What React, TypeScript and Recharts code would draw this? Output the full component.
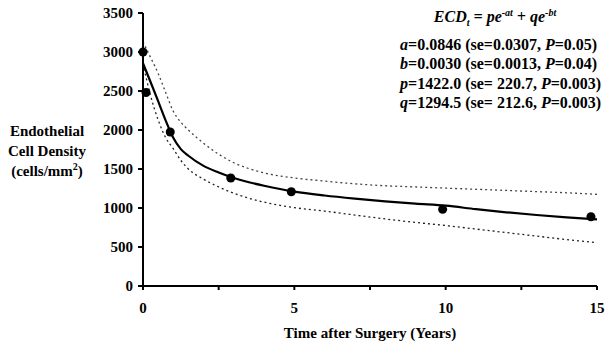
import { ComposedChart, Line, Scatter, XAxis, YAxis } from 'recharts'

// fitted curve and its dotted bands, sampled off the figure (years after surgery)
const years = [0, 0.25, 0.5, 0.75, 1, 1.25, 1.5, 2, 2.5, 3, 3.5, 4, 5, 6, 7, 8, 9, 10, 11, 12, 13, 14, 15]
const fitted = [2855, 2615, 2370, 2120, 1900, 1755, 1670, 1540, 1455, 1385, 1330, 1285, 1210, 1160, 1120, 1085, 1055, 1030, 985, 945, 910, 880, 855]
const upper = [3130, 2930, 2727, 2480, 2240, 2100, 2000, 1830, 1690, 1580, 1505, 1450, 1385, 1345, 1310, 1285, 1270, 1255, 1240, 1225, 1210, 1195, 1175]
const lower = [2850, 2440, 2130, 1900, 1760, 1610, 1500, 1370, 1270, 1190, 1125, 1075, 1005, 960, 910, 860, 815, 775, 730, 685, 640, 595, 555]

// observed means
const obsYears = [0, 0.1, 0.9, 2.9, 4.9, 9.9, 14.8]
const obsEcd = [3000, 2480, 1975, 1385, 1209, 983, 888]

const xTicks = [0, 2.5, 5, 7.5, 10, 12.5, 15]
const yTicks = [0, 500, 1000, 1500, 2000, 2500, 3000, 3500]

const serif = '"Liberation Serif"'

const series = (vals: number[]) => years.map((t, i) => ({ t, v: vals[i] }))
const obs = obsYears.map((t, i) => ({ t, v: obsEcd[i] }))

const tickStyle = { fontFamily: serif, fontWeight: 700, fontSize: 15, fill: '#000' }

const params = [
  ['a', '0.0846', '0.0307', '0.05'],
  ['b', '0.0030', '0.0013', '0.04'],
  ['p', '1422.0', ' 220.7', '0.003'],
  ['q', '1294.5', ' 212.6', '0.003'],
]

export default function App() {
  return (
    <div style={{ position: 'absolute', left: 0, top: 0, width: 607, height: 347, background: '#fff', fontFamily: serif, color: '#000' }}>
      <ComposedChart width={607} height={347} margin={{ top: 13, right: 10, bottom: 31, left: 0 }}>
        <XAxis type="number" dataKey="t" domain={[0, 15]} ticks={xTicks} interval={0} height={30}
          tickFormatter={v => (v % 5 === 0 ? String(v) : '')}
          axisLine={{ stroke: '#000', strokeWidth: 2 }} tickLine={{ stroke: '#000', strokeWidth: 2 }}
          tickSize={4} tickMargin={12} tick={tickStyle} />
        <YAxis type="number" domain={[0, 3500]} ticks={yTicks} interval={0} width={143}
          axisLine={{ stroke: '#000', strokeWidth: 2 }} tickLine={{ stroke: '#000', strokeWidth: 2 }}
          tickSize={5} tickMargin={5} tick={tickStyle} />
        <Line data={series(upper)} dataKey="v" type="monotone" stroke="#444" strokeWidth={1.3}
          strokeDasharray="2 3" dot={false} isAnimationActive={false} />
        <Line data={series(lower)} dataKey="v" type="monotone" stroke="#222" strokeWidth={1.3}
          strokeDasharray="2 3" dot={false} isAnimationActive={false} />
        <Line data={series(fitted)} dataKey="v" type="monotone" stroke="#000" strokeWidth={2.2}
          dot={false} isAnimationActive={false} />
        <Scatter data={obs} dataKey="v" fill="#000" shape="circle" isAnimationActive={false} />
      </ComposedChart>

      <div style={{ position: 'absolute', left: 0, width: 94, top: 121, textAlign: 'center', fontWeight: 700, fontSize: 15, lineHeight: '20px' }}>
        Endothelial<br />Cell Density<br />(cells/mm<sup style={{ fontSize: 10, lineHeight: 0 }}>2</sup>)
      </div>

      <div style={{ position: 'absolute', left: 143, width: 454, top: 325, textAlign: 'center', fontWeight: 700, fontSize: 15 }}>
        Time after Surgery (Years)
      </div>

      <div style={{ position: 'absolute', left: 400, width: 190, top: 8, textAlign: 'center', fontWeight: 700, fontStyle: 'italic', fontSize: 16 }}>
        ECD<sub style={{ fontSize: 10, lineHeight: 0 }}>t</sub> = pe<sup style={{ fontSize: 10, lineHeight: 0 }}>-at</sup> + qe<sup style={{ fontSize: 10, lineHeight: 0 }}>-bt</sup>
      </div>

      <div style={{ position: 'absolute', left: 400, top: 35, fontWeight: 700, fontSize: 16, lineHeight: '19.3px', whiteSpace: 'pre' }}>
        {params.map(([k, v, se, p]) => (
          <div key={k}><i>{k}</i>={v} (se={se}, <i>P</i>={p})</div>
        ))}
      </div>
    </div>
  )
}
